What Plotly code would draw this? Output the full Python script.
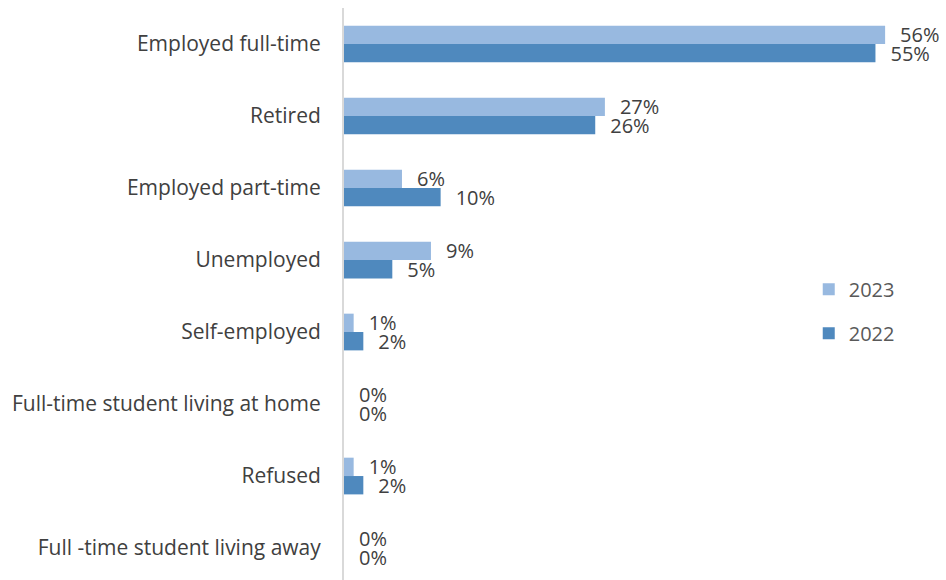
import plotly.graph_objects as go

categories = [
    "Employed full-time",
    "Retired",
    "Employed part-time",
    "Unemployed",
    "Self-employed",
    "Full-time student living at home",
    "Refused",
    "Full -time student living away",
]
values_2023 = [56, 27, 6, 9, 1, 0, 1, 0]
values_2022 = [55, 26, 10, 5, 2, 0, 2, 0]

pad = "\u2002\u200a"
fig = go.Figure()
fig.add_trace(go.Bar(
    y=categories, x=values_2023, orientation="h", name="2023",
    marker=dict(color="#98B9E0", line=dict(width=0)),
    text=[f"{pad}{v}%" for v in values_2023], textposition="outside",
    constraintext="none",
    textfont=dict(size=20, color="#404040"), cliponaxis=False,
    legendgroup="a",
))
fig.add_trace(go.Bar(
    y=categories, x=values_2022, orientation="h", name="2022",
    marker=dict(color="#4F89BE", line=dict(width=0)),
    text=[f"{pad}{v}%" for v in values_2022], textposition="outside",
    constraintext="none",
    textfont=dict(size=20, color="#404040"), cliponaxis=False,
    legendgroup="b",
))

fig.update_layout(
    width=946, height=580,
    margin=dict(l=344, r=0, t=8, b=0),
    paper_bgcolor="white", plot_bgcolor="white",
    barmode="group", bargap=0.49, bargroupgap=0,
    font=dict(family="Open Sans", size=20, color="#404040"),
    showlegend=True,
    legend=dict(x=0.772, y=0.47, xanchor="left", yanchor="middle",
                font=dict(size=20, color="#595959"), tracegroupgap=15,
                bgcolor="rgba(0,0,0,0)"),
)
fig.update_xaxes(range=[0, 62.3], showgrid=False, zeroline=False,
                 showticklabels=False, showline=False)
fig.update_yaxes(categoryorder="array", categoryarray=categories,
                 range=[7.444, -0.5], showgrid=False, zeroline=False,
                 showline=True, linecolor="#D9D9D9", linewidth=2,
                 ticks="", ticklabelstandoff=17,
                 tickfont=dict(size=21, color="#404040"))

fig.write_html("out.html")
